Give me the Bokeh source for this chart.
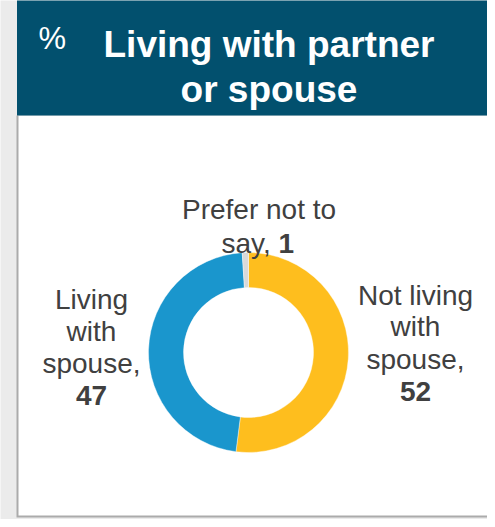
import numpy as np
from bokeh.plotting import figure
from bokeh.models import Range1d, ColumnDataSource
from bokeh.core.properties import value
from bokeh.embed import file_html
from bokeh.resources import INLINE

# ---- data ----
categories = ["Not living with spouse", "Living with spouse", "Prefer not to say"]
values = [52, 47, 1]
colors = ["#FEBE1E", "#1A96CD", "#D9D9D9"]
title_lines = ["Living with partner", "or spouse"]
unit_label = "%"

W, H = 487, 519
PAGE_TOP, PAGE_LEFT = 8, 8


def X(xp):
    return xp


def Y(yp):
    return (PAGE_TOP + H) - yp


p = figure(width=W, height=H, output_backend="svg", toolbar_location=None,
           x_range=Range1d(PAGE_LEFT, PAGE_LEFT + W), y_range=Range1d(0, H),
           min_border=0, outline_line_color=None)
p.axis.visible = False
p.grid.visible = False
p.background_fill_color = "#EBEBEB"
p.border_fill_color = "#EBEBEB"

FONT = value("Liberation Sans")

# panel: border shadow, white body, header
p.quad(left=[X(24)], right=[X(500)], top=[Y(123)], bottom=[Y(525)],
       fill_color="#ABABAB", line_color=None)
p.quad(left=[X(26)], right=[X(500)], top=[Y(123)], bottom=[Y(523)],
       fill_color="#FFFFFF", line_color=None)
p.quad(left=[X(24.5)], right=[X(500)], top=[Y(0)], bottom=[Y(123)],
       fill_color="#02506E", line_color=None)

# header texts
p.text(x=[X(46)], y=[Y(46)], text=[unit_label], text_color="white",
       text_font=FONT, text_font_size="31px", text_align="left",
       text_baseline="alphabetic")
p.text(x=[X(276.5)], y=[Y(52)], text=[title_lines[0]],
       text_color="white", text_font=FONT, text_font_size="37px",
       text_font_style="bold", text_align="center", text_baseline="alphabetic")
p.text(x=[X(276.5)], y=[Y(97)], text=[title_lines[1]],
       text_color="white", text_font=FONT, text_font_size="37px",
       text_font_style="bold", text_align="center", text_baseline="alphabetic")

# donut: clockwise from 12 o'clock
cx, cy = X(256), Y(360)
vals = np.array(values, dtype=float)
frac = vals / vals.sum()
cum = np.concatenate([[0], np.cumsum(frac)])
start = np.pi / 2 - cum[1:] * 2 * np.pi
end = np.pi / 2 - cum[:-1] * 2 * np.pi
src = ColumnDataSource(dict(start=start, end=end, color=colors, cat=categories))
p.annular_wedge(x=cx, y=cy, inner_radius=65, outer_radius=100,
                inner_radius_units="screen", outer_radius_units="screen",
                start_angle="start", end_angle="end", fill_color="color",
                line_color="white", line_width=0.4, source=src)

LBL = "#404040"
FS = "28px"

# top label
p.text(x=[X(266.5)], y=[Y(217)], text=["Prefer not to"], text_color=LBL,
       text_font=FONT, text_font_size=FS, text_align="center",
       text_baseline="alphabetic")
p.text(x=[X(286)], y=[Y(251)], text=["say, "], text_color=LBL,
       text_font=FONT, text_font_size=FS, text_align="right",
       text_baseline="alphabetic")
p.text(x=[X(286)], y=[Y(251)], text=[str(values[2])], text_color=LBL,
       text_font=FONT, text_font_size=FS, text_font_style="bold",
       text_align="left", text_baseline="alphabetic")

# left label
p.text(x=[X(99)] * 3, y=[Y(307), Y(339), Y(371)],
       text=["Living", "with", "spouse,"], text_color=LBL, text_font=FONT,
       text_font_size=FS, text_align="center", text_baseline="alphabetic")
p.text(x=[X(99)], y=[Y(403)], text=[str(values[1])], text_color=LBL,
       text_font=FONT, text_font_size=FS, text_font_style="bold",
       text_align="center", text_baseline="alphabetic")

# right label
p.text(x=[X(423)] * 3, y=[Y(303), Y(334), Y(367)],
       text=["Not living", "with", "spouse,"], text_color=LBL, text_font=FONT,
       text_font_size=FS, text_align="center", text_baseline="alphabetic")
p.text(x=[X(423)], y=[Y(399)], text=[str(values[0])], text_color=LBL,
       text_font=FONT, text_font_size=FS, text_font_style="bold",
       text_align="center", text_baseline="alphabetic")

open("out.html", "w").write(file_html(p, INLINE))
